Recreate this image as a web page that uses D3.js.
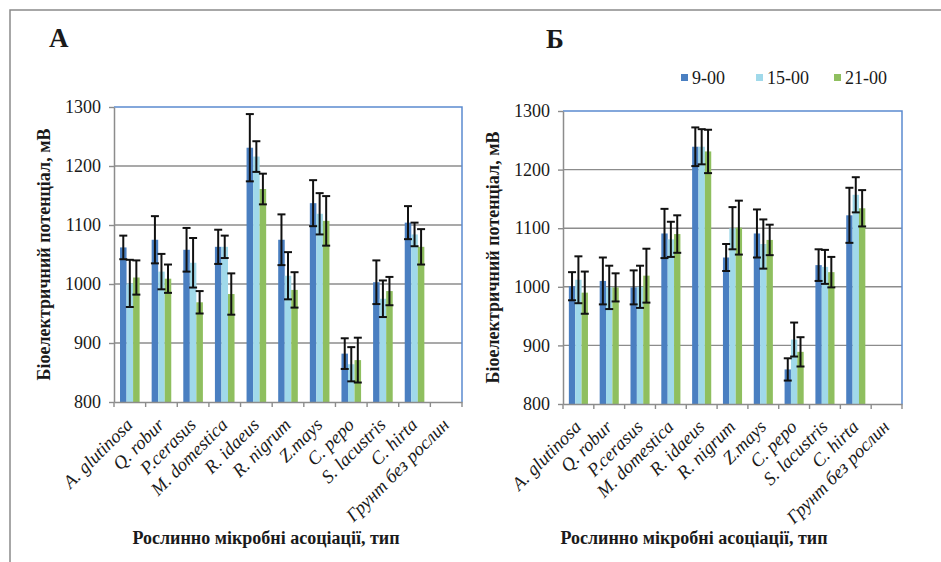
<!DOCTYPE html>
<html>
<head>
<meta charset="utf-8">
<script src="https://cdn.jsdelivr.net/npm/d3@7"></script>
<style>
  body { margin: 0; background: #fff; }
  svg { display: block; }
  text { font-family: "Liberation Serif", "DejaVu Serif", serif; fill: #1a1a1a; }
</style>
</head>
<body>
<svg id="chart" width="941" height="562"></svg>
<script>
// categories on the x axis (same for both panels)
const categories = ["A. glutinosa", "Q. robur", "P.cerasus", "M. domestica", "R. idaeus",
  "R. nigrum", "Z.mays", "C. pepo", "S. lacustris", "C. hirta", "Грунт без рослин"];
const seriesNames = ["9-00", "15-00", "21-00"];
const yTicks = [800, 900, 1000, 1100, 1200, 1300];

// panel A values (mV) and error bars
const a9 = [1062, 1075, 1058, 1063, 1231, 1075, 1137, 882, 1003, 1104, null];
const a15 = [1001, 1021, 1036, 1063, 1216, 1014, 1119, 864, 975, 1084, null];
const a21 = [1011, 1009, 969, 983, 1161, 990, 1107, 871, 988, 1063, null];
const a9err = [20, 40, 37, 29, 57, 43, 39, 26, 37, 28, null];
const a15err = [40, 30, 42, 19, 26, 40, 35, 29, 31, 20, null];
const a21err = [29, 24, 19, 35, 26, 30, 42, 38, 24, 30, null];

// panel Б values (mV) and error bars
const b9 = [1001, 1010, 999, 1091, 1239, 1050, 1091, 859, 1037, 1122, null];
const b15 = [1012, 999, 1000, 1081, 1239, 1100, 1073, 910, 1034, 1157, null];
const b21 = [990, 999, 1019, 1090, 1231, 1101, 1080, 889, 1025, 1134, null];
const b9err = [24, 40, 29, 42, 33, 23, 41, 19, 27, 47, null];
const b15err = [40, 37, 36, 30, 30, 36, 42, 29, 29, 30, null];
const b21err = [36, 24, 46, 32, 37, 46, 26, 25, 26, 31, null];

const colors = ["#4a7fc1", "#a0d9ea", "#8fbf5f"];
const yTitle = "Біоелектричний потенціал, мВ";
const xTitle = "Рослинно мікробні асоціації, тип";
const serif = '"Liberation Serif", "DejaVu Serif", serif';

const svg = d3.select("#chart");

// outer frame (top and left edges only are visible)
svg.append("path")
  .attr("d", "M10,562 L10,10 L941,10")
  .attr("fill", "none")
  .attr("stroke", "#8a8a8a")
  .attr("stroke-width", 1.5);

function drawPanel(p) {
  const x = d3.scaleBand().domain(categories).range([p.left, p.right]);
  const bw = x.bandwidth();
  const xs = d3.scaleBand().domain(seriesNames).range([0.19 * bw, 0.81 * bw]);
  const y = d3.scaleLinear().domain([800, 1300]).range([p.bottom, p.top]);
  const g = svg.append("g");

  // gridlines
  g.selectAll(".grid")
    .data(yTicks.filter((t) => t > 800 && t < 1300))
    .enter()
    .append("line")
    .attr("x1", p.left).attr("x2", p.right)
    .attr("y1", (d) => y(d)).attr("y2", (d) => y(d))
    .attr("stroke", "#8c8c8c")
    .attr("stroke-width", 1.4);

  // plot area border (top + right)
  g.append("path")
    .attr("d", `M${p.left},${y(1300)} L${p.right},${y(1300)} L${p.right},${p.bottom}`)
    .attr("fill", "none")
    .attr("stroke", "#5b8bd0")
    .attr("stroke-width", 1.5);

  // bars
  const rows = [];
  categories.forEach((c, i) => {
    seriesNames.forEach((s, k) => {
      if (p.vals[k][i] != null) rows.push({ c: c, s: s, k: k, v: p.vals[k][i], e: p.errs[k][i] });
    });
  });

  g.selectAll(".bar")
    .data(rows)
    .enter()
    .append("rect")
    .attr("x", (d) => x(d.c) + xs(d.s))
    .attr("width", xs.bandwidth())
    .attr("y", (d) => y(d.v))
    .attr("height", (d) => y(800) - y(d.v))
    .attr("fill", (d) => colors[d.k]);

  // error bars
  const eb = g.selectAll(".err")
    .data(rows)
    .enter()
    .append("g")
    .attr("transform", (d) => `translate(${x(d.c) + xs(d.s) + xs.bandwidth() / 2},0)`)
    .attr("stroke", "#111")
    .attr("stroke-width", 2);
  eb.append("line")
    .attr("y1", (d) => y(d.v + d.e)).attr("y2", (d) => y(d.v - d.e));
  eb.append("line")
    .attr("x1", -4).attr("x2", 4)
    .attr("y1", (d) => y(d.v + d.e)).attr("y2", (d) => y(d.v + d.e));
  eb.append("line")
    .attr("x1", -4).attr("x2", 4)
    .attr("y1", (d) => y(d.v - d.e)).attr("y2", (d) => y(d.v - d.e));

  // y axis
  const ya = g.append("g")
    .attr("transform", `translate(${p.left},0)`)
    .call(d3.axisLeft(y).tickValues(yTicks).tickFormat(d3.format("d"))
      .tickSize(5).tickSizeOuter(0).tickPadding(8));
  ya.attr("font-family", serif).attr("font-size", 18);
  ya.select(".domain").attr("stroke", "#8c8c8c").attr("stroke-width", 1.5);
  ya.selectAll(".tick line").attr("stroke", "#8c8c8c").attr("stroke-width", 1.4);
  ya.selectAll(".tick text").attr("fill", "#1a1a1a");

  // x axis
  const xa = g.append("g")
    .attr("transform", `translate(0,${p.bottom})`)
    .call(d3.axisBottom(x).tickSize(0).tickSizeOuter(0));
  xa.attr("font-family", serif).attr("font-size", 18.5);
  xa.select(".domain").attr("stroke", "#8c8c8c").attr("stroke-width", 1.5);
  xa.selectAll(".tick text")
    .attr("x", null).attr("y", null).attr("dy", null)
    .attr("text-anchor", "end")
    .attr("transform", "translate(4,24) rotate(-45)")
    .style("font-style", "italic")
    .attr("fill", "#1a1a1a");
  // category boundary ticks
  xa.selectAll(".btick")
    .data(categories.map((c) => x(c)).concat([p.right]))
    .enter()
    .append("line")
    .attr("x1", (d) => d).attr("x2", (d) => d)
    .attr("y1", 0).attr("y2", 5)
    .attr("stroke", "#8c8c8c")
    .attr("stroke-width", 1.4);

  // titles
  g.append("text")
    .attr("transform", `translate(${p.yTitleX},${(p.top + p.bottom) / 2}) rotate(-90)`)
    .attr("text-anchor", "middle")
    .attr("dy", "0.35em")
    .style("font-weight", "bold")
    .style("font-size", "18px")
    .text(yTitle);
  g.append("text")
    .attr("x", p.xTitleX)
    .attr("y", 544)
    .attr("text-anchor", "middle")
    .style("font-weight", "bold")
    .style("font-size", "18px")
    .text(xTitle);
  g.append("text")
    .attr("x", p.labelX)
    .attr("y", p.labelY)
    .style("font-weight", "bold")
    .style("font-size", "27px")
    .text(p.label);
}

drawPanel({ left: 114, right: 462, top: 107, bottom: 402, label: "А", labelX: 49, labelY: 47,
  yTitleX: 44, xTitleX: 266, vals: [a9, a15, a21], errs: [a9err, a15err, a21err] });
drawPanel({ left: 563, right: 902, top: 111, bottom: 404, label: "Б", labelX: 546, labelY: 48,
  yTitleX: 493, xTitleX: 694, vals: [b9, b15, b21], errs: [b9err, b15err, b21err] });

// legend
const legendX = [681, 756, 834];
const lg = svg.selectAll(".legend")
  .data(seriesNames)
  .enter()
  .append("g")
  .attr("transform", (d, i) => `translate(${legendX[i]},74)`);
lg.append("rect")
  .attr("width", 7).attr("height", 7)
  .attr("fill", (d, i) => colors[i]);
lg.append("text")
  .attr("x", 11)
  .attr("y", 9.5)
  .style("font-size", "18px")
  .text((d) => d);
</script>
</body>
</html>
